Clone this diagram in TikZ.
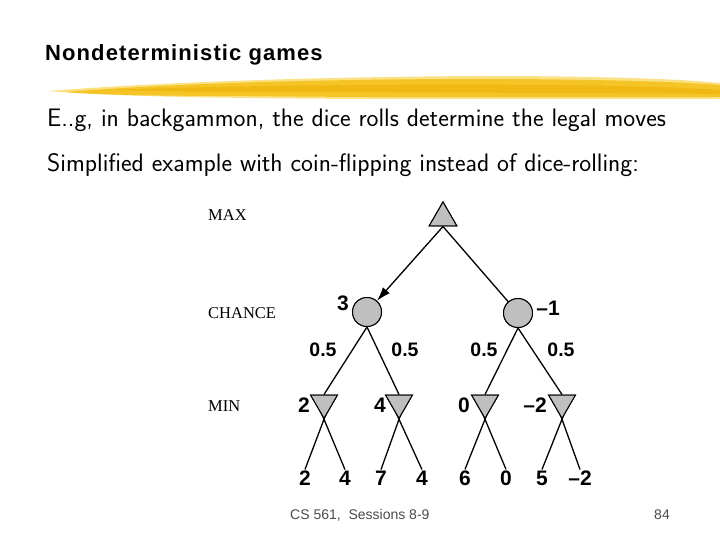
\documentclass[tikz,border=0pt]{standalone}
\usepackage{fontspec}
\usepackage{xcolor}
\usepackage{tikz}
\usetikzlibrary{calc,arrows.meta,positioning,shapes.geometric}
\newfontfamily\arialf{Liberation Sans}
\newfontfamily\titlef[LetterSpace=5]{Liberation Sans}
\newfontfamily\timesf{Liberation Serif}
\definecolor{brushc}{HTML}{F5C426}
\definecolor{brushd}{HTML}{EFB30A}
\definecolor{brushl}{HTML}{F9D964}
\definecolor{nodec}{HTML}{BFBFBF}
\definecolor{footc}{HTML}{4A4A4A}
\tikzset{
  edge/.style={line width=1.3pt,black},
  ar/.style={-{Latex[length=14pt,width=9pt]},line width=1.3pt,black},
  maxnode/.style={regular polygon,regular polygon sides=3,minimum size=32pt,inner sep=0pt,draw,line width=1pt,fill=nodec},
  minnode/.style={regular polygon,regular polygon sides=3,shape border rotate=180,minimum size=31pt,inner sep=0pt,draw,line width=1pt,fill=nodec},
  chancenode/.style={circle,minimum size=29pt,inner sep=0pt,draw,line width=1pt,fill=nodec},
  val/.style={font=\arialf\bfseries\fontsize{21}{22}\selectfont,inner sep=1pt},
  prob/.style={font=\arialf\bfseries\fontsize{19.5}{21}\selectfont,inner sep=1pt},
  lvl/.style={font=\timesf\fontsize{16.5}{18}\selectfont,anchor=west,inner sep=0pt},
  body/.style={font=\sffamily\fontsize{25.3}{28}\selectfont,anchor=base west,inner sep=0pt},
  foot/.style={font=\arialf\fontsize{14}{16}\selectfont,text=footc,inner sep=0pt}
}
\begin{document}
\begin{tikzpicture}[x=1pt,y=-1pt]
\useasboundingbox (0,0) rectangle (720,540);
% title and brush stroke
\node[anchor=west,inner sep=0pt,font=\titlef\bfseries\fontsize{22}{24}\selectfont] (title) at (45,55) {Nondeterministic games};
\fill[brushl,opacity=0.8] (48,91) .. controls (150,83) and (300,77) .. (480,76) .. controls (600,76) and (680,79) .. (720,83) -- (720,99) .. controls (600,99) and (400,100) .. (250,98) .. controls (160,97) and (100,95) .. (48,91) -- cycle;
\fill[brushc] (65,92) .. controls (150,85) and (300,79) .. (480,79) .. controls (600,79) and (680,82) .. (720,85) -- (720,97) .. controls (600,97) and (400,98) .. (250,96) .. controls (160,96) and (100,95) .. (65,92) -- cycle;
\fill[brushd,opacity=0.7] (110,90) .. controls (250,85) and (400,84) .. (560,85) .. controls (640,86) and (690,88) .. (720,90) -- (720,94) .. controls (640,93) and (500,93) .. (350,92) .. controls (250,92) and (170,92) .. (110,90) -- cycle;
% body text
\node[body] (line1) at (47,127) {E..g, in backgammon, the dice rolls determine the legal moves};
\node[body] (line2) at (47,172) {Simplified example with coin-flipping instead of dice-rolling:};
% level labels
\node[lvl] (lmax) at (208,215) {MAX};
\node[lvl] (lchance) at (208,313) {CHANCE};
\node[lvl] (lmin) at (208,406) {MIN};
% tree nodes
\node[maxnode] (mx) at (443,218) {};
\node[chancenode] (chA) at (367,312) {};
\node[chancenode] (chB) at (518,313) {};
\node[minnode] (mnA) at (324,402.75) {};
\node[minnode] (mnB) at (399,402.75) {};
\node[minnode] (mnC) at (485,402.75) {};
\node[minnode] (mnD) at (562,402.75) {};
% leaves
\node[val] (lfA) at (305,478) {2};
\node[val] (lfB) at (345,478) {4};
\node[val] (lfC) at (381,478) {7};
\node[val] (lfD) at (422,478) {4};
\node[val] (lfE) at (465,478) {6};
\node[val] (lfF) at (506,478) {0};
\node[val] (lfG) at (542,478) {5};
\node[val] (lfH) at (580,478) {–2};
% edges
\draw[ar] (mx.south) -- (chA);
\draw[edge] (mx.south) -- (chB);
\draw[edge] (chA.south) -- (mnA.north) (chA.south) -- (mnB.north);
\draw[edge] (chB.south) -- (mnC.north) (chB.south) -- (mnD.north);
\foreach \m/\a/\b in {mnA/lfA/lfB,mnB/lfC/lfD,mnC/lfE/lfF,mnD/lfG/lfH}
  \draw[edge] (\a.north) -- ($(\a.north)!1.35!(\m.corner 1)$) (\b.north) -- ($(\b.north)!1.35!(\m.corner 1)$);
% redraw node shapes on top of edges
\node[maxnode] at (mx) {};
\foreach \c in {chA,chB} \node[chancenode] at (\c) {};
\foreach \m in {mnA,mnB,mnC,mnD} \node[minnode] at (\m) {};
% backed-up values
\node[val] (vA) at (343,303) {3};
\node[val] (vB) at (548,308) {–1};
\node[val] (vC) at (304,405) {2};
\node[val] (vD) at (380,405) {4};
\node[val] (vE) at (464,405) {0};
\node[val] (vF) at (535,405) {–2};
% probabilities
\node[prob] (pA) at (323,350) {0.5};
\node[prob] (pB) at (405,350) {0.5};
\node[prob] (pC) at (484,350) {0.5};
\node[prob] (pD) at (561,350) {0.5};
% footer
\node[foot,anchor=west] (fleft) at (290,515) {CS 561,\ \ Sessions 8-9};
\node[foot] (fpage) at (662,515) {84};
\end{tikzpicture}
\end{document}
